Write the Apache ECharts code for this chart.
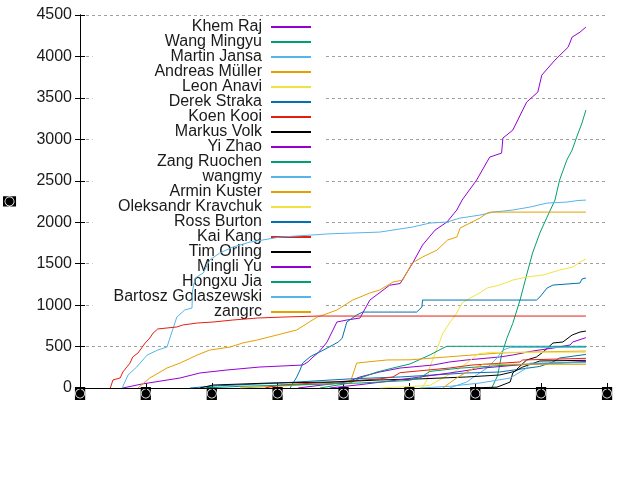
<!DOCTYPE html>
<html>
<head>
<meta charset="utf-8">
<script src="https://cdn.jsdelivr.net/npm/echarts@6/dist/echarts.min.js"></script>
<style>
  html, body { margin: 0; padding: 0; background: #fff; }
  #chart { width: 640px; height: 480px; }
</style>
</head>
<body>
<div id="chart"></div>
<script>
// authors, in legend order
const authors = ['Khem Raj', 'Wang Mingyu', 'Martin Jansa', 'Andreas Müller', 'Leon Anavi',
  'Derek Straka', 'Koen Kooi', 'Markus Volk', 'Yi Zhao', 'Zang Ruochen', 'wangmy',
  'Armin Kuster', 'Oleksandr Kravchuk', 'Ross Burton', 'Kai Kang', 'Tim Orling',
  'Mingli Yu', 'Hongxu Jia', 'Bartosz Golaszewski', 'zangrc']

// tick labels (unreadable glyphs in the original)
const xTickLabels = ['◙', '◙', '◙', '◙', '◙', '◙', '◙', '◙', '◙']
const yAxisName = '◙'

// cumulative commits: [time, count]
const khemRaj = [[0.65, 0], [0.94, 48], [1.52, 121], [1.82, 181], [2.23, 217], [2.73, 253], [3.38, 277],
  [3.46, 314], [3.52, 362], [3.61, 422], [3.69, 494], [3.75, 555], [3.90, 796], [4.05, 820], [4.25, 844],
  [4.40, 1061], [4.70, 1240], [4.86, 1260], [5.05, 1507], [5.20, 1725], [5.39, 1905], [5.57, 2002],
  [5.72, 2147], [5.80, 2267], [6.02, 2508], [6.22, 2786], [6.40, 2834], [6.42, 3015], [6.57, 3111],
  [6.78, 3449], [6.95, 3570], [7.01, 3775], [7.21, 3956], [7.41, 4112], [7.47, 4233], [7.59, 4293], [7.68, 4354]]
const wangMingyu = [[6.25, 0], [6.34, 150], [6.40, 400], [6.48, 600], [6.57, 780], [6.68, 1061], [6.80, 1423],
  [6.87, 1628], [6.98, 1869], [7.09, 2062], [7.21, 2267], [7.28, 2508], [7.39, 2750], [7.47, 2870],
  [7.54, 3027], [7.62, 3196], [7.68, 3353]]
const martinJansa = [[0.64, 0], [0.73, 157], [0.86, 253], [1.02, 398], [1.18, 458], [1.32, 494], [1.37, 615],
  [1.47, 856], [1.59, 941], [1.70, 965], [1.71, 1182], [1.75, 1327], [1.87, 1387], [1.97, 1544], [2.12, 1628],
  [2.32, 1700], [2.58, 1760], [3.03, 1820], [3.79, 1860], [4.55, 1881], [5.05, 1942], [5.31, 1990],
  [5.57, 2002], [5.77, 2050], [6.07, 2086], [6.27, 2122], [6.57, 2147], [6.83, 2183], [7.09, 2231],
  [7.39, 2243], [7.56, 2262], [7.68, 2267]]
const andreasMuller = [[0.88, 0], [1.06, 121], [1.32, 241], [1.52, 301], [1.78, 398], [1.97, 458], [2.28, 494],
  [2.47, 543], [2.69, 579], [2.99, 639], [3.29, 700], [3.60, 856], [3.69, 880], [3.90, 941], [4.14, 1061],
  [4.40, 1146], [4.55, 1182], [4.75, 1278], [4.90, 1302], [5.04, 1507], [5.20, 1580], [5.42, 1664],
  [5.58, 1785], [5.72, 1821], [5.77, 1930], [6.07, 2050], [6.18, 2110], [6.22, 2122], [7.68, 2122]]
const leonAnavi = [[5.19, 0], [5.27, 100], [5.31, 253], [5.43, 494], [5.51, 663], [5.61, 784], [5.72, 904],
  [5.80, 1025], [5.92, 1085], [6.07, 1146], [6.18, 1206], [6.37, 1242], [6.57, 1302], [6.78, 1339],
  [7.03, 1363], [7.28, 1423], [7.48, 1459], [7.59, 1520], [7.68, 1556]]
const derekStraka = [[3.19, 0], [3.29, 133], [3.34, 217], [3.38, 301], [3.49, 374], [3.54, 398], [3.64, 434],
  [3.75, 482], [3.84, 519], [3.92, 555], [3.98, 600], [4.05, 796], [4.20, 880], [4.29, 916], [5.11, 916],
  [5.19, 977], [5.20, 1061], [6.93, 1061], [6.98, 1097], [7.09, 1206], [7.18, 1242], [7.59, 1266],
  [7.62, 1315], [7.68, 1327]]
const koenKooi = [[0.46, 0], [0.50, 97], [0.61, 121], [0.65, 193], [0.76, 301], [0.80, 374], [0.88, 422],
  [0.99, 543], [1.06, 603], [1.11, 663], [1.18, 712], [1.32, 724], [1.47, 736], [1.56, 760], [1.78, 784],
  [2.02, 796], [2.32, 820], [2.69, 844], [3.08, 856], [3.61, 868], [7.68, 868]]
const markusVolk = [[5.92, 0], [6.33, 10], [6.53, 72], [6.57, 181], [6.65, 241], [6.78, 338], [6.93, 374],
  [7.03, 434], [7.18, 543], [7.33, 555], [7.47, 639], [7.59, 675], [7.68, 687]]
const yiZhao = [[3.31, 0], [4.05, 72], [4.25, 133], [4.55, 193], [4.86, 241], [5.36, 277], [5.61, 314],
  [5.87, 338], [6.37, 374], [6.57, 398], [6.87, 446], [7.18, 482], [7.44, 519], [7.48, 555], [7.68, 607]]
const zangRuochen = [[3.64, 0], [4.10, 60], [4.25, 120], [4.51, 193], [4.75, 241], [5.01, 290], [5.31, 398],
  [5.51, 482], [5.57, 503], [7.68, 503]]
const wangmy = [[5.61, 0], [5.87, 72], [6.02, 157], [6.18, 241], [6.33, 362], [6.42, 458], [6.53, 490], [7.68, 490]]
const arminKuster = [[2.43, 0], [3.34, 36], [4.10, 60], [4.14, 157], [4.20, 301], [4.66, 338], [5.01, 340],
  [5.36, 362], [5.96, 398], [6.37, 422], [6.87, 434], [7.68, 446]]
const oleksandrKravchuk = [[4.55, 0], [5.31, 30], [5.46, 100], [5.69, 200], [5.92, 330], [6.04, 410],
  [6.22, 430], [7.68, 432]]
const rossBurton = [[1.67, 0], [2.05, 25], [3.03, 60], [4.10, 110], [4.86, 133], [5.87, 181], [6.37, 193],
  [6.98, 260], [7.18, 314], [7.28, 362], [7.68, 405]]
const kaiKang = [[2.81, 0], [3.03, 36], [3.84, 72], [4.55, 110], [4.75, 133], [4.86, 185], [5.61, 241],
  [5.95, 277], [6.68, 314], [6.72, 338], [7.68, 358]]
const timOrling = [[1.82, 0], [2.02, 36], [2.88, 60], [3.84, 72], [4.55, 97], [5.16, 110], [5.87, 133],
  [6.37, 157], [6.60, 200], [6.72, 253], [6.98, 326], [7.68, 334]]
const mingliYu = [[3.79, 0], [4.25, 40], [4.86, 100], [5.05, 121], [5.61, 181], [6.12, 241], [6.68, 280], [7.68, 320]]
const hongxuJia = [[1.90, 0], [2.43, 20], [3.34, 40], [4.25, 60], [4.98, 90], [5.16, 121], [5.31, 200],
  [5.77, 240], [6.37, 270], [6.98, 295], [7.68, 312]]
const bartoszGolaszewski = [[5.16, 0], [5.61, 20], [6.07, 60], [6.53, 120], [6.78, 240], [6.83, 300], [7.68, 305]]
const zangrc = [[5.51, 0], [5.61, 60], [5.72, 121], [5.87, 193], [6.02, 253], [6.12, 286], [7.68, 286]]

const seriesData = [khemRaj, wangMingyu, martinJansa, andreasMuller, leonAnavi, derekStraka, koenKooi,
  markusVolk, yiZhao, zangRuochen, wangmy, arminKuster, oleksandrKravchuk, rossBurton, kaiKang,
  timOrling, mingliYu, hongxuJia, bartoszGolaszewski, zangrc]

// gnuplot default line colours, cycled
const palette = ['#9400d3', '#009e73', '#56b4e9', '#e69f00', '#f0e442', '#0072b2', '#e51e10', '#000000']

const chart = echarts.init(document.getElementById('chart'), null, { renderer: 'canvas' })
const font = 'Liberation Sans'

const tickAxis = {
  type: 'value', min: 0, max: 8, interval: 1,
  axisLine: { show: true, lineStyle: { color: '#000', width: 1 } },
  axisTick: { show: true, inside: true, length: 5, lineStyle: { color: '#000' } },
  splitLine: { show: false }
}

const option = {
  animation: false,
  backgroundColor: '#fff',
  color: palette,
  textStyle: { fontFamily: font },
  grid: { left: 80, right: 33, top: 15, bottom: 92, containLabel: false, outerBoundsMode: 'none' },
  legend: {
    orient: 'vertical',
    align: 'right',
    right: 317,
    top: 16,
    z: 1,
    padding: [3, 11, 6, 21],
    backgroundColor: '#fff',
    itemWidth: 40,
    itemHeight: 10,
    itemGap: -1,
    itemStyle: { opacity: 0 },
    selectedMode: false,
    textStyle: { fontFamily: font, fontSize: 16, color: '#1a1a1a', lineHeight: 14, padding: [0, 4, 0, 0] },
    data: authors
  },
  xAxis: [
    Object.assign({}, tickAxis, {
      position: 'bottom',
      axisLabel: {
        show: true, margin: -1, fontSize: 13, fontWeight: 'bold', color: '#000', fontFamily: 'DejaVu Sans',
        formatter: (v) => xTickLabels[Math.round(v)] || ''
      }
    }),
    Object.assign({}, tickAxis, { position: 'top', axisLabel: { show: false } })
  ],
  yAxis: [
    {
      type: 'value', min: 0, max: 4500, interval: 500, position: 'left', z: 0,
      name: yAxisName, nameLocation: 'middle', nameGap: 64, nameRotate: 90,
      nameTextStyle: { fontFamily: 'DejaVu Sans', fontSize: 13, fontWeight: 'bold', color: '#000' },
      axisLine: { show: true, lineStyle: { color: '#000' } },
      axisTick: { show: true, inside: true, length: 5, lineStyle: { color: '#000' } },
      axisLabel: { fontSize: 16, color: '#1a1a1a', margin: 8, fontFamily: font, formatter: (v) => String(v) },
      splitLine: {
        show: true,
        lineStyle: { color: '#a0a0a0', type: [3, 3], width: 1 }
      }
    },
    {
      type: 'value', min: 0, max: 4500, interval: 500, position: 'right',
      axisLine: { show: true, lineStyle: { color: '#000' } },
      axisTick: { show: true, inside: true, length: 5, lineStyle: { color: '#000' } },
      axisLabel: { show: false },
      splitLine: { show: false }
    }
  ],
  series: authors.map((name, i) => ({
    name: name,
    type: 'line',
    z: 3,
    data: seriesData[i],
    symbol: 'none',
    showSymbol: false,
    silent: true,
    lineStyle: { width: 1, color: palette[i % palette.length] },
    itemStyle: { color: palette[i % palette.length] }
  }))
}

chart.setOption(option)
</script>
</body>
</html>
